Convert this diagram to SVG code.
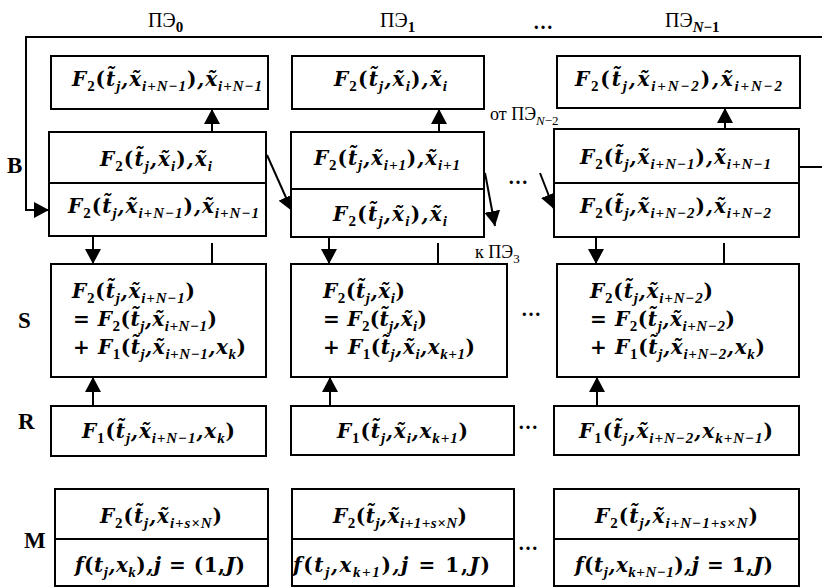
<svg xmlns="http://www.w3.org/2000/svg" width="822" height="587" viewBox="0 0 822 587">
<style>
.bx{fill:#fff;stroke:#000;stroke-width:2}
.ln{fill:none;stroke:#000;stroke-width:2}
.m{font-family:"DejaVu Serif","Liberation Serif",serif;font-weight:bold;font-style:italic;font-size:20px;fill:#000}
.sb{font-family:"Liberation Serif","DejaVu Serif",serif;font-size:15px;baseline-shift:-5px}
.u{font-style:normal}
.lb{font-family:"Liberation Serif","Times New Roman",serif;font-weight:bold;font-size:23px;fill:#000}
.pe{font-family:"Liberation Serif","Times New Roman",serif;font-size:20px;fill:#000}
.ps{font-size:15px;font-weight:bold;baseline-shift:-5px}
.it{font-style:italic}
.dt{font-family:"Liberation Serif","Times New Roman",serif;font-weight:bold;font-size:20px;fill:#000}
</style>
<defs>
<marker id="ah" markerUnits="userSpaceOnUse" markerWidth="16" markerHeight="16" refX="15" refY="8" orient="auto">
<path d="M0,0 L15,8 L0,16 Z" fill="#000"/>
</marker>
</defs>

<g id="labels">
<text class="lb" x="7" y="173">B</text>
<text class="lb" x="18" y="328">S</text>
<text class="lb" x="18" y="429">R</text>
<text class="lb" x="24" y="548">M</text>
<text class="pe" x="148" y="27">ПЭ<tspan class="ps">0</tspan></text>
<text class="pe" x="380" y="27">ПЭ<tspan class="ps">1</tspan></text>
<text class="pe" x="665" y="27">ПЭ<tspan class="ps it">N</tspan><tspan class="ps">−1</tspan></text>
<text class="dt" x="533" y="29" textLength="22">…</text>
<text class="pe" x="490" y="120" style="font-size:18px">от ПЭ<tspan class="sb" style="font-style:italic;font-size:13px">N</tspan><tspan class="sb" style="font-size:13px">−2</tspan></text>
<text class="pe" x="475" y="258" style="font-size:18px">к ПЭ<tspan class="sb" style="font-size:13px">3</tspan></text>
<text class="dt" x="508" y="184" textLength="22">…</text>
<text class="dt" x="521" y="316" textLength="22">…</text>
<text class="dt" x="518" y="429" textLength="22">…</text>
<text class="dt" x="518" y="550" textLength="22">…</text>
</g>

<g id="connectors">
<polyline class="ln" points="822,37 26,37 26,210 49,210" marker-end="url(#ah)"/>
<line class="ln" x1="799" y1="167" x2="822" y2="167"/>
<line class="ln" x1="212" y1="132" x2="212" y2="109" marker-end="url(#ah)"/>
<line class="ln" x1="439" y1="132" x2="439" y2="109" marker-end="url(#ah)"/>
<line class="ln" x1="725" y1="129" x2="725" y2="108" marker-end="url(#ah)"/>
<line class="ln" x1="267" y1="155" x2="292" y2="211" marker-end="url(#ah)"/>
<line class="ln" x1="485" y1="173" x2="495" y2="226" marker-end="url(#ah)"/>
<line class="ln" x1="540" y1="173" x2="554" y2="209" marker-end="url(#ah)"/>
<line class="ln" x1="93" y1="236" x2="93" y2="264" marker-end="url(#ah)"/>
<line class="ln" x1="329" y1="237" x2="329" y2="264" marker-end="url(#ah)"/>
<line class="ln" x1="596" y1="237" x2="596" y2="264" marker-end="url(#ah)"/>
<line class="ln" x1="212" y1="243" x2="212" y2="264"/>
<line class="ln" x1="438" y1="243" x2="438" y2="264"/>
<line class="ln" x1="724" y1="243" x2="724" y2="264"/>
<line class="ln" x1="93" y1="406" x2="93" y2="377" marker-end="url(#ah)"/>
<line class="ln" x1="330" y1="406" x2="330" y2="377" marker-end="url(#ah)"/>
<line class="ln" x1="597" y1="406" x2="597" y2="377" marker-end="url(#ah)"/>
</g>

<g id="pe0-top">
<rect class="bx" x="51" y="56" width="217" height="53"/>
<text class="m" x="72" y="86" textLength="190">F<tspan class="sb u">2</tspan><tspan class="u">(</tspan>t̃<tspan class="sb">j</tspan>,x̃<tspan class="sb">i+N−1</tspan><tspan class="u">)</tspan>,x̃<tspan class="sb">i+N−1</tspan></text>
</g>
<g id="pe1-top">
<rect class="bx" x="292" y="56" width="192" height="53"/>
<text class="m" x="334" y="86" textLength="113">F<tspan class="sb u">2</tspan><tspan class="u">(</tspan>t̃<tspan class="sb">j</tspan>,x̃<tspan class="sb">i</tspan><tspan class="u">)</tspan>,x̃<tspan class="sb">i</tspan></text>
</g>
<g id="pe2-top">
<rect class="bx" x="557" y="56" width="243" height="52"/>
<text class="m" x="575" y="86" textLength="207">F<tspan class="sb u">2</tspan><tspan class="u">(</tspan>t̃<tspan class="sb">j</tspan>,x̃<tspan class="sb">i+N−2</tspan><tspan class="u">)</tspan>,x̃<tspan class="sb">i+N−2</tspan></text>
</g>

<g id="pe0-B">
<rect class="bx" x="49" y="132" width="217" height="104"/>
<line class="ln" x1="49" y1="183" x2="266" y2="183"/>
<text class="m" x="100" y="166" textLength="112">F<tspan class="sb u">2</tspan><tspan class="u">(</tspan>t̃<tspan class="sb">j</tspan>,x̃<tspan class="sb">i</tspan><tspan class="u">)</tspan>,x̃<tspan class="sb">i</tspan></text>
<text class="m" x="68" y="213" textLength="191">F<tspan class="sb u">2</tspan><tspan class="u">(</tspan>t̃<tspan class="sb">j</tspan>,x̃<tspan class="sb">i+N−1</tspan><tspan class="u">)</tspan>,x̃<tspan class="sb">i+N−1</tspan></text>
</g>
<g id="pe1-B">
<rect class="bx" x="291" y="132" width="193" height="105"/>
<line class="ln" x1="291" y1="189" x2="484" y2="189"/>
<text class="m" x="314" y="165" textLength="146">F<tspan class="sb u">2</tspan><tspan class="u">(</tspan>t̃<tspan class="sb">j</tspan>,x̃<tspan class="sb">i+1</tspan><tspan class="u">)</tspan>,x̃<tspan class="sb">i+1</tspan></text>
<text class="m" x="333" y="221" textLength="114">F<tspan class="sb u">2</tspan><tspan class="u">(</tspan>t̃<tspan class="sb">j</tspan>,x̃<tspan class="sb">i</tspan><tspan class="u">)</tspan>,x̃<tspan class="sb">i</tspan></text>
</g>
<g id="pe2-B">
<rect class="bx" x="554" y="129" width="245" height="108"/>
<line class="ln" x1="554" y1="183" x2="799" y2="183"/>
<text class="m" x="580" y="164" textLength="191">F<tspan class="sb u">2</tspan><tspan class="u">(</tspan>t̃<tspan class="sb">j</tspan>,x̃<tspan class="sb">i+N−1</tspan><tspan class="u">)</tspan>,x̃<tspan class="sb">i+N−1</tspan></text>
<text class="m" x="580" y="213" textLength="191">F<tspan class="sb u">2</tspan><tspan class="u">(</tspan>t̃<tspan class="sb">j</tspan>,x̃<tspan class="sb">i+N−2</tspan><tspan class="u">)</tspan>,x̃<tspan class="sb">i+N−2</tspan></text>
</g>

<g id="pe0-S">
<rect class="bx" x="51" y="264" width="215" height="113"/>
<text class="m" x="72" y="298" textLength="123">F<tspan class="sb u">2</tspan><tspan class="u">(</tspan>t̃<tspan class="sb">j</tspan>,x̃<tspan class="sb">i+N−1</tspan><tspan class="u">)</tspan></text>
<text class="m" x="73" y="326" textLength="144"><tspan class="u">= </tspan>F<tspan class="sb u">2</tspan><tspan class="u">(</tspan>t̃<tspan class="sb">j</tspan>,x̃<tspan class="sb">i+N−1</tspan><tspan class="u">)</tspan></text>
<text class="m" x="73" y="354" textLength="173"><tspan class="u">+ </tspan>F<tspan class="sb u">1</tspan><tspan class="u">(</tspan>t̃<tspan class="sb">j</tspan>,x̃<tspan class="sb">i+N−1</tspan>,x<tspan class="sb">k</tspan><tspan class="u">)</tspan></text>
</g>
<g id="pe1-S">
<rect class="bx" x="291" y="264" width="216" height="113"/>
<text class="m" x="323" y="298" textLength="82">F<tspan class="sb u">2</tspan><tspan class="u">(</tspan>t̃<tspan class="sb">j</tspan>,x̃<tspan class="sb">i</tspan><tspan class="u">)</tspan></text>
<text class="m" x="323" y="326" textLength="104"><tspan class="u">= </tspan>F<tspan class="sb u">2</tspan><tspan class="u">(</tspan>t̃<tspan class="sb">j</tspan>,x̃<tspan class="sb">i</tspan><tspan class="u">)</tspan></text>
<text class="m" x="323" y="354" textLength="152"><tspan class="u">+ </tspan>F<tspan class="sb u">1</tspan><tspan class="u">(</tspan>t̃<tspan class="sb">j</tspan>,x̃<tspan class="sb">i</tspan>,x<tspan class="sb">k+1</tspan><tspan class="u">)</tspan></text>
</g>
<g id="pe2-S">
<rect class="bx" x="557" y="264" width="242" height="113"/>
<text class="m" x="590" y="298" textLength="123">F<tspan class="sb u">2</tspan><tspan class="u">(</tspan>t̃<tspan class="sb">j</tspan>,x̃<tspan class="sb">i+N−2</tspan><tspan class="u">)</tspan></text>
<text class="m" x="590" y="326" textLength="145"><tspan class="u">= </tspan>F<tspan class="sb u">2</tspan><tspan class="u">(</tspan>t̃<tspan class="sb">j</tspan>,x̃<tspan class="sb">i+N−2</tspan><tspan class="u">)</tspan></text>
<text class="m" x="590" y="354" textLength="175"><tspan class="u">+ </tspan>F<tspan class="sb u">1</tspan><tspan class="u">(</tspan>t̃<tspan class="sb">j</tspan>,x̃<tspan class="sb">i+N−2</tspan>,x<tspan class="sb">k</tspan><tspan class="u">)</tspan></text>
</g>

<g id="pe0-R">
<rect class="bx" x="51" y="406" width="215" height="50"/>
<text class="m" x="82" y="438" textLength="153">F<tspan class="sb u">1</tspan><tspan class="u">(</tspan>t̃<tspan class="sb">j</tspan>,x̃<tspan class="sb">i+N−1</tspan>,x<tspan class="sb">k</tspan><tspan class="u">)</tspan></text>
</g>
<g id="pe1-R">
<rect class="bx" x="291" y="406" width="223" height="49"/>
<text class="m" x="337" y="438" textLength="131">F<tspan class="sb u">1</tspan><tspan class="u">(</tspan>t̃<tspan class="sb">j</tspan>,x̃<tspan class="sb">i</tspan>,x<tspan class="sb">k+1</tspan><tspan class="u">)</tspan></text>
</g>
<g id="pe2-R">
<rect class="bx" x="554" y="406" width="245" height="49"/>
<text class="m" x="579" y="438" textLength="194">F<tspan class="sb u">1</tspan><tspan class="u">(</tspan>t̃<tspan class="sb">j</tspan>,x̃<tspan class="sb">i+N−2</tspan>,x<tspan class="sb">k+N−1</tspan><tspan class="u">)</tspan></text>
</g>

<g id="pe0-M">
<rect class="bx" x="55" y="489" width="213" height="97"/>
<line class="ln" x1="55" y1="539" x2="268" y2="539"/>
<text class="m" x="100" y="523" textLength="122">F<tspan class="sb u">2</tspan><tspan class="u">(</tspan>t̃<tspan class="sb">j</tspan>,x̃<tspan class="sb">i+s×N</tspan><tspan class="u">)</tspan></text>
<text class="m" x="75" y="572" textLength="170">f<tspan class="u">(</tspan>t<tspan class="sb">j</tspan>,x<tspan class="sb">k</tspan><tspan class="u">)</tspan>,j<tspan class="u"> = (1,</tspan>J<tspan class="u">)</tspan></text>
</g>
<g id="pe1-M">
<rect class="bx" x="292" y="489" width="222" height="97"/>
<line class="ln" x1="292" y1="539" x2="514" y2="539"/>
<text class="m" x="333" y="523" textLength="134">F<tspan class="sb u">2</tspan><tspan class="u">(</tspan>t̃<tspan class="sb">j</tspan>,x̃<tspan class="sb">i+1+s×N</tspan><tspan class="u">)</tspan></text>
<text class="m" x="293" y="572" textLength="197">f<tspan class="u">(</tspan>t<tspan class="sb">j</tspan>,x<tspan class="sb">k+1</tspan><tspan class="u">)</tspan>,j<tspan class="u"> = 1,</tspan>J<tspan class="u">)</tspan></text>
</g>
<g id="pe2-M">
<rect class="bx" x="554" y="489" width="245" height="97"/>
<line class="ln" x1="554" y1="539" x2="799" y2="539"/>
<text class="m" x="595" y="523" textLength="163">F<tspan class="sb u">2</tspan><tspan class="u">(</tspan>t̃<tspan class="sb">j</tspan>,x̃<tspan class="sb">i+N−1+s×N</tspan><tspan class="u">)</tspan></text>
<text class="m" x="575" y="572" textLength="198">f<tspan class="u">(</tspan>t<tspan class="sb">j</tspan>,x<tspan class="sb">k+N−1</tspan><tspan class="u">)</tspan>,j<tspan class="u"> = 1,</tspan>J<tspan class="u">)</tspan></text>
</g>
</svg>
